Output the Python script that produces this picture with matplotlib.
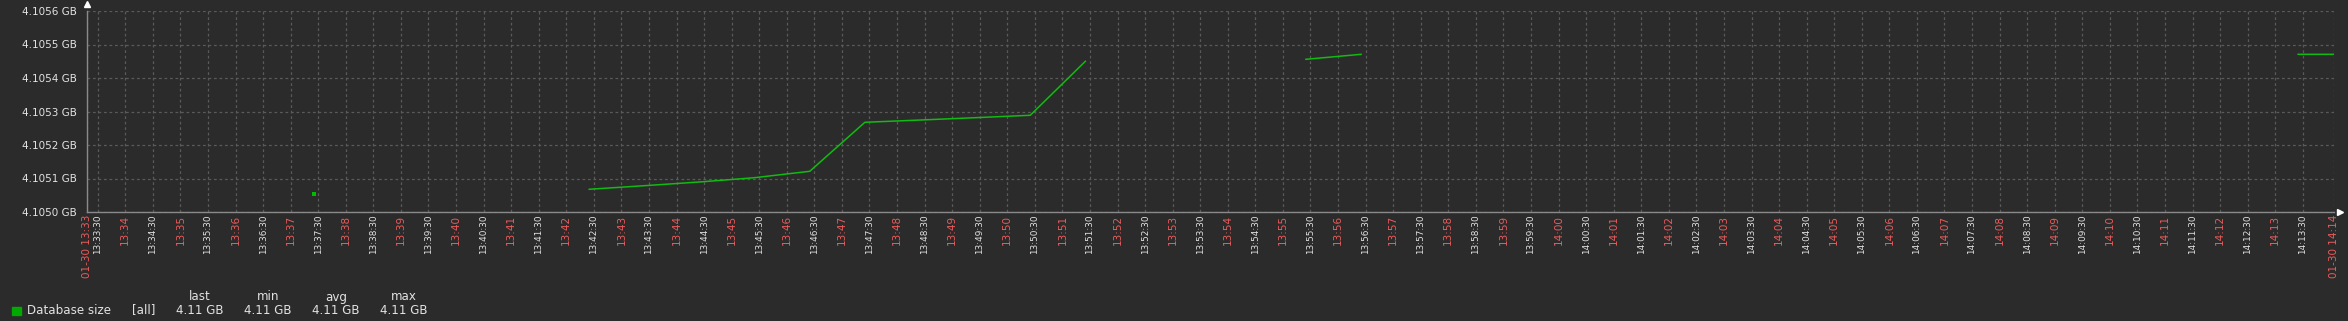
import numpy as np
import pandas as pd
import matplotlib
matplotlib.use("Agg")
import matplotlib.pyplot as plt
from matplotlib.patches import Rectangle

# sampled once a minute at :25, NaN where no data
times = pd.date_range("2024-01-30 13:33:25", "2024-01-30 14:14:25", freq="1min")
nan = np.nan
sizes_gb = [nan, nan, nan, nan, 4.105054, nan, nan, nan, nan,
            4.1050678, 4.1050785, 4.1050896, 4.1051024, 4.1051215,
            4.1052678, 4.1052745, 4.1052815, 4.1052887, 4.1054499,
            nan, nan, nan,
            4.1054558, 4.1054707] + [nan] * 16 + [4.1054707, 4.1054707]

t_start = pd.Timestamp("2024-01-30 13:33:18")
t_end = pd.Timestamp("2024-01-30 14:14:04")
y_ticks = [4.1050, 4.1051, 4.1052, 4.1053, 4.1054, 4.1055, 4.1056]

legend_name = "Database size"
legend_cols = ["last", "min", "avg", "max"]
legend_vals = ["4.11 GB", "4.11 GB", "4.11 GB", "4.11 GB"]

BG = "#2b2b2b"
GREEN = "#11bb11"
RED = "#ee5a5a"
FG = "#e2e2e2"

W, H = 2348, 321
fig = plt.figure(figsize=(W / 100, H / 100), dpi=100, facecolor=BG)
ax = fig.add_axes([86.7 / W, 1 - 212 / H, (2334 - 86.7) / W, (212 - 11) / H])
ax.set_facecolor(BG)

s = pd.Series(sizes_gb, index=times)
ax.plot(s.index, s.values, color=GREEN, lw=1.1, zorder=3)
# lone samples have no neighbours to draw a line to
lone = s.notna() & s.shift(1).isna() & s.shift(-1).isna()
ax.plot(s.index[lone], s.values[lone], ls="none", marker="s", ms=2.2,
        color="#00bb00", mew=0, zorder=3)

ax.set_xlim(t_start, t_end)
ax.set_ylim(4.1050, 4.1056)

ax.set_yticks(y_ticks)
ax.set_yticklabels([f"{v:.4f} GB" for v in y_ticks])
ax.tick_params(axis="y", length=0, pad=7, labelsize=7.5, labelcolor=FG)

# x ticks: whole minutes red, half minutes white, edges carry the date
half = pd.date_range("2024-01-30 13:33:30", "2024-01-30 14:13:30", freq="30s")
xt = [t_start] + list(half) + [t_end]
xl = ["01-30 13:33"] + [t.strftime("%H:%M") if t.second == 0 else t.strftime("%H:%M:%S")
                        for t in half] + ["01-30 14:14"]
ax.set_xticks(xt)
ax.set_xticklabels(xl, rotation=90, va="top", ha="center")
ax.tick_params(axis="x", length=0, pad=2)
for t, lab in zip(xt, ax.get_xticklabels()):
    if t.second == 0 or t in (t_start, t_end):
        lab.set_color(RED)
        lab.set_fontsize(7.5)
    else:
        lab.set_color(FG)
        lab.set_fontsize(6.4)

ax.grid(True, color="#5a5a5a", lw=0.9, ls=(0, (2.2, 2.2)))
ax.set_axisbelow(True)
for side in ("top", "right"):
    ax.spines[side].set_visible(False)
for side in ("left", "bottom"):
    ax.spines[side].set_color("#8a8a8a")
    ax.spines[side].set_linewidth(1.0)

# axis arrows
ax.plot([0], [1.035], marker="^", ms=4, color="white", transform=ax.transAxes, clip_on=False)
ax.plot([1.0027], [0], marker=">", ms=4, color="white", transform=ax.transAxes, clip_on=False)

# legend with stats
def fx(px):
    return px / W

def fy(py):
    return 1 - py / H

fig.patches.append(Rectangle((fx(12), fy(314.5)), fx(8.7), 8 / H, color="#00aa00",
                             transform=fig.transFigure, figure=fig))
fig.text(fx(27.3), fy(310), legend_name, color=FG, fontsize=8.6, va="center", ha="left")
fig.text(fx(132.3), fy(310), "[all]", color=FG, fontsize=8.6, va="center", ha="left")
for i, (c, v) in enumerate(zip(legend_cols, legend_vals)):
    cx = 200 + i * 68
    fig.text(fx(cx), fy(297), c, color=FG, fontsize=8.6, va="center", ha="center")
    fig.text(fx(cx), fy(310), v, color=FG, fontsize=8.6, va="center", ha="center")

fig.savefig("out.png", dpi=100, facecolor=BG)
